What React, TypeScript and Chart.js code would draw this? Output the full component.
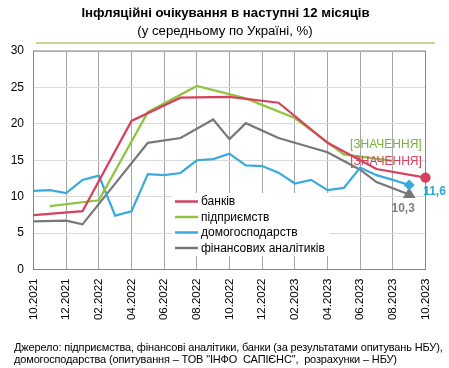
import { useEffect, useRef } from "react";
import { Chart, registerables } from "chart.js";

Chart.register(...registerables);

const FONT = '"Liberation Sans", Arial, sans-serif';

const months = [
  "10.2021", "11.2021", "12.2021",
  "01.2022", "02.2022", "03.2022", "04.2022", "05.2022", "06.2022",
  "07.2022", "08.2022", "09.2022", "10.2022", "11.2022", "12.2022",
  "01.2023", "02.2023", "03.2023", "04.2023", "05.2023", "06.2023",
  "07.2023", "08.2023", "09.2023", "10.2023",
];

const seriesNames = ["банків", "підприємств", "домогосподарств", "фінансових аналітиків"];

const banks = [7.45, null, null, 8.0, null, null, 20.4, null, null, 23.6, null, null, 23.7, null, null, 22.9, null, null, 17.4, null, null, 13.8, null, null, 12.6];
const enterprises = [null, 8.7, null, null, 9.5, null, null, 21.6, null, null, 25.2, null, null, 23.5, null, null, 20.8, null, null, 15.8, null, null, 14.9, null, null];
const households = [10.8, 10.9, 10.5, 12.3, 12.9, 7.4, 8.0, 13.1, 12.95, 13.25, 15.0, 15.15, 15.9, 14.3, 14.2, 13.3, 11.8, 12.3, 10.9, 11.2, 14.0, 12.95, 12.3, 11.6, null];
const analysts = [6.6, null, 6.7, 6.2, null, null, null, 17.4, null, 18.05, null, 20.6, 17.9, 20.1, null, 18.05, null, null, 16.1, null, 13.7, 12.0, null, 10.3, null];

const yTicks = [0, 5, 10, 15, 20, 25, 30];
const placeholderLabel = "[ЗНАЧЕННЯ]";

const colors = {
  banks: "#d6405c",
  enterprises: "#8cc63f",
  households: "#3aaade",
  analysts: "#787878",
};

function lastIndex(arr: (number | null)[]) {
  for (let i = arr.length - 1; i >= 0; i--) if (arr[i] !== null) return i;
  return -1;
}

const fmt = (v: number) => v.toFixed(1).replace(".", ",");

const framePlugin = {
  id: "frame",
  beforeDatasetsDraw(chart: any) {
    const { ctx, chartArea } = chart;
    ctx.save();
    ctx.strokeStyle = "#868686";
    ctx.lineWidth = 1;
    ctx.strokeRect(chartArea.left, chartArea.top, chartArea.right - chartArea.left, chartArea.bottom - chartArea.top);
    ctx.restore();
  },
};

const labelsPlugin = {
  id: "labelsAndLegend",
  afterDatasetsDraw(chart: any) {
    const { ctx } = chart;
    const pt = (ds: number, i: number) => chart.getDatasetMeta(ds).data[i];
    ctx.save();
    // legend box
    ctx.fillStyle = "#ffffff";
    ctx.fillRect(172, 193, 158, 63);
    const rowY = [201.5, 217, 232.5, 248];
    chart.data.datasets.forEach((d: any, k: number) => {
      ctx.strokeStyle = d.borderColor;
      ctx.lineWidth = 2.5;
      ctx.beginPath();
      ctx.moveTo(175, rowY[k]);
      ctx.lineTo(198, rowY[k]);
      ctx.stroke();
      ctx.fillStyle = "#000000";
      ctx.font = `12px ${FONT}`;
      ctx.textAlign = "left";
      ctx.textBaseline = "middle";
      ctx.fillText(d.label, 201, rowY[k] + 0.5);
    });

    // data labels
    ctx.textBaseline = "middle";
    const iH = lastIndex(households);
    const pH = pt(2, iH);
    ctx.font = `bold 12px ${FONT}`;
    ctx.fillStyle = "#2ea3da";
    ctx.textAlign = "left";
    ctx.fillText(fmt(households[iH] as number), pH.x + 14, pH.y + 7);

    const iA = lastIndex(analysts);
    const pA = pt(3, iA);
    ctx.fillStyle = "#7f7f7f";
    ctx.textAlign = "center";
    ctx.fillText(fmt(analysts[iA] as number), pA.x - 6, pA.y + 14);

    const iE = lastIndex(enterprises);
    const pE = pt(1, iE);
    ctx.font = `12px ${FONT}`;
    ctx.fillStyle = "#7ab23c";
    ctx.fillText(placeholderLabel, pE.x - 7, pE.y - 16);

    const iB = lastIndex(banks);
    const pB = pt(0, iB);
    ctx.fillStyle = "#d6405c";
    ctx.fillText(placeholderLabel, pB.x - 39.5, pB.y - 16);
    ctx.restore();
  },
};

export default function App() {
  const ref = useRef<HTMLCanvasElement>(null);

  useEffect(() => {
    if (!ref.current) return;
    Chart.defaults.font.family = FONT;
    const lastR = (arr: (number | null)[], r: number) => (c: any) => (c.dataIndex === lastIndex(arr) ? r : 0);
    const chart = new Chart(ref.current, {
      type: "line",
      data: {
        labels: months,
        datasets: [
          {
            label: seriesNames[0],
            data: banks,
            borderColor: colors.banks,
            backgroundColor: colors.banks,
            borderWidth: 2.25,
            pointStyle: "circle",
            pointRadius: lastR(banks, 4),
            pointHoverRadius: 0,
          },
          {
            label: seriesNames[1],
            data: enterprises,
            borderColor: colors.enterprises,
            backgroundColor: colors.enterprises,
            borderWidth: 2.25,
            pointRadius: 0,
            pointHoverRadius: 0,
          },
          {
            label: seriesNames[2],
            data: households,
            borderColor: colors.households,
            backgroundColor: colors.households,
            borderWidth: 2.25,
            pointStyle: "rectRot",
            pointRadius: lastR(households, 4),
            pointHoverRadius: 0,
          },
          {
            label: seriesNames[3],
            data: analysts,
            borderColor: colors.analysts,
            backgroundColor: colors.analysts,
            borderWidth: 2.25,
            pointStyle: "triangle",
            pointRadius: lastR(analysts, 5),
            pointHoverRadius: 0,
          },
        ],
      },
      options: {
        responsive: false,
        animation: false,
        spanGaps: true,
        elements: { line: { tension: 0 } },
        layout: { padding: { left: 0.5, right: 23.5, top: 51, bottom: 0 } },
        plugins: {
          legend: { display: false },
          title: { display: false },
          tooltip: { enabled: false },
        },
        scales: {
          x: {
            type: "category",
            offset: false,
            grid: {
              color: (c: any) => (c.index % 2 === 0 ? "#a6a6a6" : "rgba(0,0,0,0)"),
              drawTicks: false,
            },
            border: { color: "#868686" },
            ticks: {
              autoSkip: false,
              maxRotation: 90,
              minRotation: 90,
              padding: 9,
              color: "#000000",
              font: { size: 11.5, family: FONT },
              callback: (_v: any, i: number) => (i % 2 === 0 ? months[i] : ""),
            },
            afterFit: (s: any) => {
              s.height = 98.5;
            },
          },
          y: {
            min: yTicks[0],
            max: yTicks[yTicks.length - 1],
            afterBuildTicks: (s: any) => {
              s.ticks = yTicks.map((v) => ({ value: v }));
            },
            grid: { color: "#d9d9d9", drawTicks: false },
            border: { color: "#868686" },
            ticks: {
              padding: 9.5,
              color: "#000000",
              font: { size: 12, family: FONT },
            },
            afterFit: (s: any) => {
              s.width = 33;
            },
          },
        },
      },
      plugins: [framePlugin, labelsPlugin],
    });
    return () => chart.destroy();
  }, []);

  return (
    <div style={{ position: "absolute", left: 0, top: 0, width: 449, height: 368, background: "#fff", fontFamily: FONT }}>
      <canvas ref={ref} width={449} height={368} style={{ position: "absolute", left: 0, top: 0, width: 449, height: 368 }} />
      <div style={{ position: "absolute", left: 0, top: 5, width: 451, textAlign: "center", fontWeight: "bold", fontSize: 13.2, lineHeight: "15px", color: "#000" }}>
        Інфляційні очікування в наступні 12 місяців
      </div>
      <div style={{ position: "absolute", left: 0, top: 22.5, width: 450, textAlign: "center", fontSize: 13.2, lineHeight: "15px", color: "#000" }}>
        (у середньому по Україні, %)
      </div>
      <div style={{ position: "absolute", left: 36, top: 41.5, width: 399, height: 2, background: "#c4d79b" }} />
      <div style={{ position: "absolute", left: 14, top: 341, fontSize: 11, lineHeight: "12px", letterSpacing: "-0.15px", color: "#000", whiteSpace: "pre" }}>
        {"Джерело: підприємства, фінансові аналітики, банки (за результатами опитувань НБУ),\nдомогосподарства (опитування – ТОВ \"ІНФО  САПІЄНС\",  розрахунки – НБУ)"}
      </div>
    </div>
  );
}
